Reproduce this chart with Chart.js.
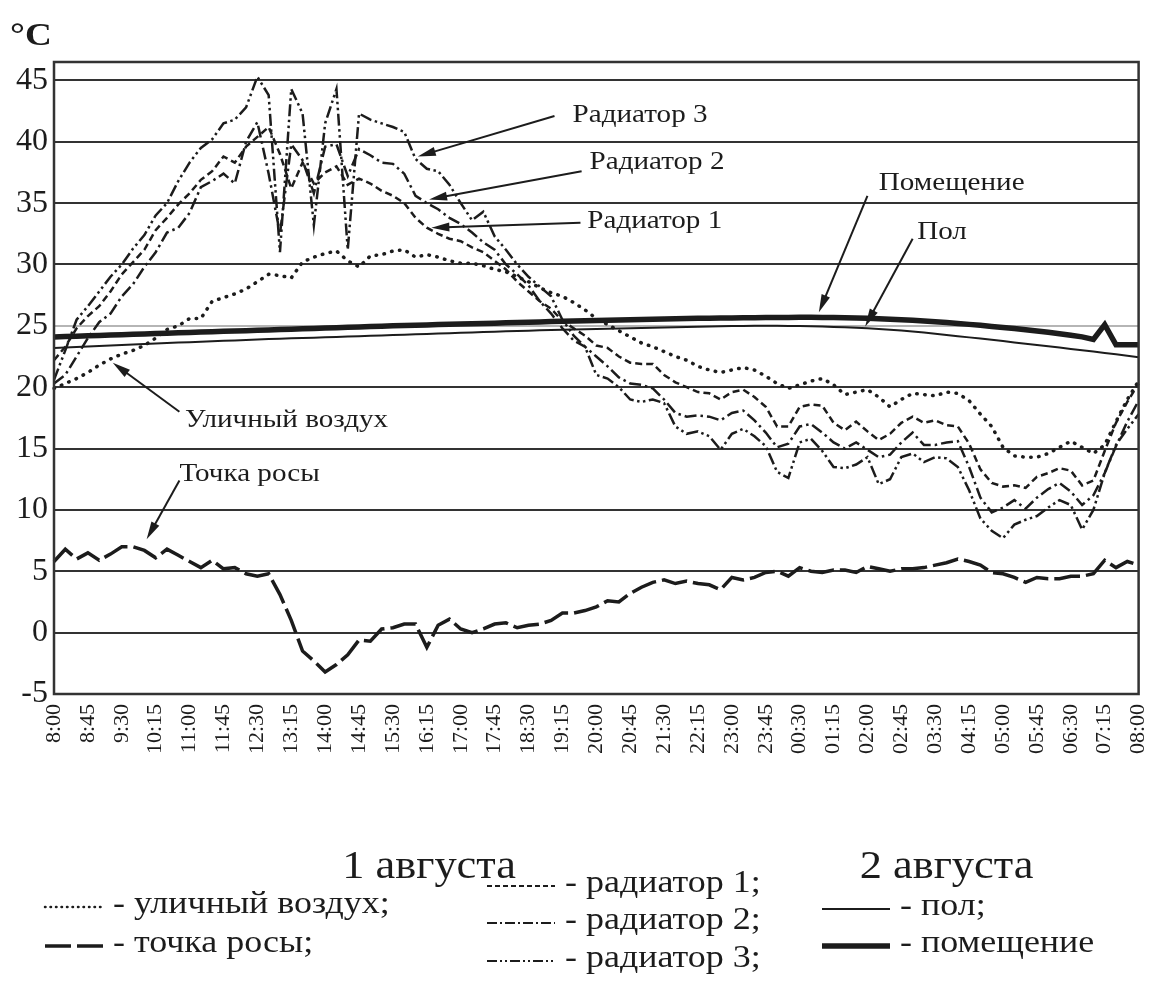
<!DOCTYPE html>
<html>
<head>
<meta charset="utf-8">
<style>
  html, body { margin: 0; padding: 0; background: #fff; }
</style>
</head>
<body>
<canvas id="chart" width="1175" height="1000"></canvas>
<script src="https://cdn.jsdelivr.net/npm/chart.js@4/dist/chart.umd.min.js"></script>
<script>
// 15-minute readings, 1 August 8:00 .. 2 August 08:00
const timeLabels = [
    '8:00', '8:15', '8:30', '8:45', '9:00', '9:15', '9:30', '9:45',
    '10:00', '10:15', '10:30', '10:45', '11:00', '11:15', '11:30', '11:45',
    '12:00', '12:15', '12:30', '12:45', '13:00', '13:15', '13:30', '13:45',
    '14:00', '14:15', '14:30', '14:45', '15:00', '15:15', '15:30', '15:45',
    '16:00', '16:15', '16:30', '16:45', '17:00', '17:15', '17:30', '17:45',
    '18:00', '18:15', '18:30', '18:45', '19:00', '19:15', '19:30', '19:45',
    '20:00', '20:15', '20:30', '20:45', '21:00', '21:15', '21:30', '21:45',
    '22:00', '22:15', '22:30', '22:45', '23:00', '23:15', '23:30', '23:45',
    '00:00', '00:15', '00:30', '00:45', '01:00', '01:15', '01:30', '01:45',
    '02:00', '02:15', '02:30', '02:45', '03:00', '03:15', '03:30', '03:45',
    '04:00', '04:15', '04:30', '04:45', '05:00', '05:15', '05:30', '05:45',
    '06:00', '06:15', '06:30', '06:45', '07:00', '07:15', '07:30', '07:45',
    '08:00'
];

const yTicks = [-5, 0, 5, 10, 15, 20, 25, 30, 35, 40, 45];

const outdoorAir = [
    19.9, 20.3, 20.7, 21.2, 21.8, 22.3, 22.7, 23.0, 23.4, 24.0, 24.7, 25.0, 25.6, 25.6, 27.0, 27.3,
    27.6, 28.0, 28.6, 29.2, 29.1, 28.9, 30.2, 30.6, 30.9, 31.1, 30.3, 29.8, 30.7, 30.8, 31.1, 31.2,
    30.6, 30.8, 30.6, 30.3, 30.1, 30.1, 29.9, 29.6, 29.4, 29.0, 28.6, 28.1, 27.7, 27.4, 26.9, 26.3,
    25.6, 25.1, 24.6, 24.1, 23.6, 23.3, 22.9, 22.5, 22.2, 21.7, 21.4, 21.2, 21.4, 21.6, 21.4, 20.9,
    20.3, 19.9, 20.2, 20.5, 20.7, 20.2, 19.4, 19.6, 19.8, 19.2, 18.4, 19.0, 19.5, 19.4, 19.3, 19.6,
    19.5, 18.9, 17.8, 16.8, 15.1, 14.4, 14.3, 14.3, 14.6, 15.1, 15.6, 15.1, 14.6, 15.3, 17.2, 19.0,
    20.5
];

const dewPoint = [
    5.8, 6.8, 6.0, 6.5, 5.9, 6.4, 7.0, 7.0, 6.7, 6.1, 6.8, 6.3, 5.8, 5.3, 5.9, 5.2,
    5.3, 4.8, 4.6, 4.8, 3.1, 1.0, -1.5, -2.3, -3.2, -2.6, -1.8, -0.6, -0.7, 0.3, 0.4, 0.7,
    0.7, -1.2, 0.6, 1.1, 0.3, 0.0, 0.3, 0.7, 0.8, 0.4, 0.6, 0.7, 1.0, 1.6, 1.6, 1.8,
    2.1, 2.6, 2.5, 3.2, 3.7, 4.1, 4.3, 4.0, 4.2, 4.0, 3.9, 3.5, 4.5, 4.3, 4.5, 4.9,
    5.0, 4.6, 5.3, 5.0, 4.9, 5.1, 5.1, 4.9, 5.4, 5.2, 5.0, 5.2, 5.2, 5.3, 5.5, 5.7,
    6.0, 5.8, 5.5, 4.9, 4.8, 4.5, 4.1, 4.5, 4.4, 4.4, 4.6, 4.6, 4.8, 5.9, 5.3, 5.8,
    5.5
];

const radiator1 = [
    22.2, 23.3, 24.8, 25.8, 26.6, 27.8, 29.2, 30.2, 31.2, 32.8, 33.8, 34.9, 35.8, 36.9, 37.6, 38.8,
    38.3, 39.6, 40.4, 41.2, 39.0, 36.2, 38.3, 36.6, 37.5, 38.0, 36.5, 37.0, 36.6, 36.0, 35.6, 35.0,
    33.8, 33.0, 32.5, 32.1, 31.9, 31.4, 31.0, 30.3, 29.6, 28.6, 27.8, 27.0, 26.4, 25.4, 24.8, 24.2,
    23.4, 23.2, 22.5, 22.0, 21.9, 21.9, 21.0, 20.4, 20.0, 19.6, 19.5, 19.0, 19.6, 19.8, 19.2, 18.4,
    16.8, 16.8, 18.4, 18.6, 18.5, 17.1, 16.5, 17.2, 16.4, 15.7, 16.2, 17.1, 17.6, 17.1, 17.3, 16.9,
    16.8, 15.4, 13.3, 12.2, 11.9, 12.0, 11.8, 12.7, 13.0, 13.4, 13.2, 12.0, 12.4, 14.8, 17.1, 18.8,
    20.3
];

const radiator2 = [
    20.3, 21.0, 22.5, 24.0, 25.3, 26.0, 27.4, 28.4, 29.8, 31.0, 32.6, 33.0, 34.2, 36.3, 36.8, 37.4,
    36.6, 40.0, 41.6, 37.4, 32.5, 39.8, 38.5, 35.8, 39.6, 39.8, 37.2, 39.4, 38.9, 38.3, 38.2, 37.4,
    35.6, 35.0, 34.5, 33.8, 33.3, 32.6, 31.8, 31.2, 30.0, 29.2, 28.3, 27.0, 26.0, 24.8, 23.8, 23.3,
    22.5, 21.7, 20.8, 20.3, 20.2, 19.9, 19.0, 17.9, 17.6, 17.7, 17.6, 17.3, 17.9, 18.1, 17.3, 16.3,
    15.1, 15.4, 16.8, 17.0, 16.3, 15.5, 15.0, 15.5, 14.9, 14.3, 14.5, 15.5, 16.3, 15.3, 15.3, 15.5,
    15.6, 13.5, 11.0, 9.8, 10.2, 10.8, 10.1, 11.0, 11.7, 12.2, 11.5, 10.4, 11.2, 13.0, 15.2, 17.2,
    18.9
];

const radiator3 = [
    20.6, 23.0, 25.5, 26.6, 27.8, 29.0, 30.0, 31.3, 32.4, 34.0, 35.0, 36.8, 38.3, 39.5, 40.2, 41.5,
    41.8, 42.8, 45.3, 43.8, 31.0, 44.3, 42.3, 33.2, 41.5, 44.3, 31.2, 42.3, 41.8, 41.5, 41.2, 40.8,
    38.6, 37.8, 37.6, 36.5, 35.0, 33.6, 34.3, 32.3, 31.2, 30.0, 29.0, 28.2, 27.4, 25.5, 24.2, 23.3,
    21.0, 20.7, 20.0, 19.0, 18.8, 19.0, 18.7, 16.8, 16.2, 16.4, 16.0, 14.9, 16.2, 16.6, 16.0, 15.2,
    13.1, 12.6, 15.5, 15.8, 14.8, 13.5, 13.4, 13.7, 14.3, 12.1, 12.5, 14.3, 14.6, 13.9, 14.3, 14.2,
    13.5, 11.6, 9.3, 8.3, 7.7, 8.8, 9.2, 9.5, 10.2, 10.8, 10.4, 8.4, 10.0, 13.0, 15.3, 16.6,
    17.8
];

const floorTemp = [
    23.20, 23.24, 23.28, 23.32, 23.36, 23.40, 23.44, 23.48, 23.52, 23.56, 23.60, 23.64, 23.67, 23.71, 23.74, 23.78,
    23.81, 23.85, 23.88, 23.92, 23.95, 23.98, 24.01, 24.04, 24.07, 24.10, 24.13, 24.16, 24.19, 24.22, 24.25, 24.28,
    24.31, 24.34, 24.37, 24.40, 24.43, 24.46, 24.49, 24.52, 24.55, 24.58, 24.61, 24.64, 24.66, 24.68, 24.70, 24.72,
    24.74, 24.76, 24.78, 24.80, 24.82, 24.84, 24.86, 24.88, 24.90, 24.92, 24.94, 24.96, 24.98, 24.99, 25.00, 25.00,
    25.00, 24.99, 24.98, 24.96, 24.94, 24.91, 24.88, 24.84, 24.80, 24.75, 24.69, 24.62, 24.54, 24.45, 24.36, 24.26,
    24.16, 24.06, 23.96, 23.86, 23.76, 23.65, 23.55, 23.44, 23.34, 23.23, 23.12, 23.01, 22.90, 22.79, 22.68, 22.56,
    22.45
];

const roomTemp = [
    24.10, 24.13, 24.16, 24.19, 24.22, 24.25, 24.28, 24.31, 24.34, 24.37, 24.40, 24.43, 24.46, 24.49, 24.52, 24.55,
    24.58, 24.61, 24.64, 24.67, 24.70, 24.73, 24.76, 24.79, 24.82, 24.85, 24.88, 24.91, 24.94, 24.97, 25.00, 25.02,
    25.05, 25.07, 25.10, 25.12, 25.15, 25.17, 25.20, 25.22, 25.25, 25.27, 25.30, 25.32, 25.35, 25.37, 25.40, 25.42,
    25.44, 25.46, 25.48, 25.50, 25.52, 25.54, 25.56, 25.58, 25.60, 25.61, 25.62, 25.63, 25.64, 25.65, 25.66, 25.67,
    25.68, 25.69, 25.70, 25.70, 25.69, 25.68, 25.66, 25.64, 25.61, 25.58, 25.54, 25.50, 25.45, 25.40, 25.34, 25.27,
    25.20, 25.12, 25.04, 24.95, 24.86, 24.78, 24.68, 24.58, 24.47, 24.36, 24.24, 24.10, 23.90, 25.10, 23.45, 23.45,
    23.45
];

const INK = '#1c1c1c';
const SERIF = '"Liberation Serif", "Times New Roman", serif';

// call-out texts with arrows, anchored in data coordinates [index, °C]
const callouts = [
    { text: 'Радиатор 3', at: [45.9, 42.2], from: [44.3, 42.1], to: [32.2, 38.8] },
    { text: 'Радиатор 2', at: [47.4, 38.3], from: [46.7, 37.6], to: [33.2, 35.3] },
    { text: 'Радиатор 1', at: [47.2, 33.5], from: [46.6, 33.4], to: [33.4, 33.0] },
    { text: 'Помещение', at: [73.0, 36.6], from: [72.0, 35.6], to: [67.7, 26.1] },
    { text: 'Пол', at: [76.4, 32.6], from: [76.0, 32.1], to: [71.8, 24.95] },
    { text: 'Уличный воздух', at: [11.6, 17.3], from: [11.1, 18.0], to: [5.2, 22.0] },
    { text: 'Точка росы', at: [11.1, 12.9], from: [11.1, 12.4], to: [8.2, 7.6] }
];

function drawArrow(ctx, x1, y1, x2, y2) {
    const ang = Math.atan2(y2 - y1, x2 - x1);
    const len = 18, half = 4.5;
    ctx.beginPath();
    ctx.moveTo(x1, y1);
    ctx.lineTo(x2 - Math.cos(ang) * len * 0.8, y2 - Math.sin(ang) * len * 0.8);
    ctx.stroke();
    ctx.beginPath();
    ctx.moveTo(x2, y2);
    ctx.lineTo(x2 - len * Math.cos(ang) + half * Math.sin(ang), y2 - len * Math.sin(ang) - half * Math.cos(ang));
    ctx.lineTo(x2 - len * Math.cos(ang) - half * Math.sin(ang), y2 - len * Math.sin(ang) + half * Math.cos(ang));
    ctx.closePath();
    ctx.fill();
}

// the source scan is a little wider than the font, so text is stretched sideways
function wideText(ctx, text, x, y, stretch, align) {
    ctx.save();
    ctx.translate(x, y);
    ctx.scale(stretch, 1);
    ctx.textAlign = align;
    ctx.fillText(text, 0, 0);
    ctx.restore();
}

// frame, unit, call-outs, day names and the legend
const notesPlugin = {
    id: 'notes',
    afterDraw(chart) {
        const { ctx, chartArea: a } = chart;
        const sx = chart.scales.x, sy = chart.scales.y;
        const px = v => sx.getPixelForValue(v);
        const py = v => sy.getPixelForValue(v);
        ctx.save();

        ctx.strokeStyle = '#333';
        ctx.lineWidth = 2.5;
        ctx.strokeRect(a.left, a.top, a.right - a.left, a.bottom - a.top);

        ctx.fillStyle = INK;
        ctx.font = 'bold 31px ' + SERIF;
        ctx.textBaseline = 'alphabetic';
        wideText(ctx, '°C', 10, 45, 1.2, 'left');

        ctx.strokeStyle = INK;
        ctx.lineWidth = 2;
        ctx.font = '26px ' + SERIF;
        ctx.textBaseline = 'middle';
        callouts.forEach(c => {
            drawArrow(ctx, px(c.from[0]), py(c.from[1]), px(c.to[0]), py(c.to[1]));
            wideText(ctx, c.text, px(c.at[0]), py(c.at[1]), 1.12, 'left');
        });

        // day names under the time axis
        ctx.font = '40px ' + SERIF;
        ctx.textBaseline = 'alphabetic';
        wideText(ctx, '1 августа', px(33.2), 878, 1.11, 'center');
        wideText(ctx, '2 августа', px(79), 878, 1.11, 'center');

        // legend: three columns
        const rows = [
            { ds: 0, x: 45, y: 907, w: 58 },
            { ds: 1, x: 45, y: 946, w: 58 },
            { ds: 2, x: 487, y: 886, w: 68 },
            { ds: 3, x: 487, y: 923, w: 68 },
            { ds: 4, x: 487, y: 961, w: 68 },
            { ds: 5, x: 822, y: 909, w: 68 },
            { ds: 6, x: 822, y: 946, w: 68 }
        ];
        ctx.font = '31px ' + SERIF;
        ctx.textBaseline = 'middle';
        rows.forEach(r => {
            const d = chart.data.datasets[r.ds];
            ctx.save();
            ctx.strokeStyle = d.borderColor;
            ctx.lineWidth = d.legendWidth || d.borderWidth;
            ctx.lineCap = d.borderCapStyle || 'butt';
            ctx.setLineDash(d.legendDash || d.borderDash || []);
            ctx.beginPath();
            ctx.moveTo(r.x, r.y);
            ctx.lineTo(r.x + r.w, r.y);
            ctx.stroke();
            ctx.restore();
            wideText(ctx, '- ' + d.label, r.x + r.w + 10, r.y - 2, 1.16, 'left');
        });
        ctx.restore();
    }
};

new Chart(document.getElementById('chart'), {
    type: 'line',
    data: {
        labels: timeLabels,
        datasets: [
            { label: 'уличный воздух;', data: outdoorAir, borderWidth: 3.5, borderDash: [0.5, 7.5], borderCapStyle: 'round', legendWidth: 2.5, legendDash: [0.5, 5] },
            { label: 'точка росы;', data: dewPoint, borderWidth: 3.5, borderDash: [26, 6], legendDash: [26, 6] },
            { label: 'радиатор 1;', data: radiator1, borderWidth: 2.5, borderDash: [7, 4], legendWidth: 2, legendDash: [5, 3] },
            { label: 'радиатор 2;', data: radiator2, borderWidth: 2.5, borderDash: [12, 4, 2.5, 4], legendWidth: 2, legendDash: [10, 3, 2, 3] },
            { label: 'радиатор 3;', data: radiator3, borderWidth: 2.5, borderDash: [12, 3.5, 2.5, 3.5, 2.5, 3.5], legendWidth: 2, legendDash: [10, 3, 2, 3, 2, 3] },
            { label: 'пол;', data: floorTemp, borderWidth: 2 },
            { label: 'помещение', data: roomTemp, borderWidth: 5.5 }
        ]
    },
    options: {
        responsive: false,
        animation: false,
        layout: { padding: { top: 62, right: 35, left: 0, bottom: 0 } },
        elements: {
            point: { radius: 0 },
            line: { tension: 0, borderColor: INK, fill: false }
        },
        plugins: {
            legend: { display: false },
            tooltip: { enabled: false }
        },
        scales: {
            x: {
                grid: { display: false, drawTicks: false },
                border: { display: false },
                ticks: {
                    autoSkip: false,
                    minRotation: 90,
                    maxRotation: 90,
                    padding: 10,
                    color: INK,
                    font: { family: SERIF, size: 22 },
                    callback: function (value, index) {
                        return index % 3 === 0 ? this.getLabelForValue(value) : null;
                    }
                },
                afterFit: scale => { scale.height = 306; }
            },
            y: {
                min: -5,
                max: 46.5,
                afterBuildTicks: scale => { scale.ticks = yTicks.map(v => ({ value: v })); },
                grid: {
                    color: ctx => (ctx.tick && ctx.tick.value === 25 ? '#b5b5b5' : '#333'),
                    lineWidth: 2,
                    drawTicks: false
                },
                border: { display: false },
                ticks: { color: INK, padding: 6, font: { family: SERIF, size: 32 } },
                afterFit: scale => { scale.width = 54; }
            }
        }
    },
    plugins: [notesPlugin]
});
</script>
</body>
</html>
